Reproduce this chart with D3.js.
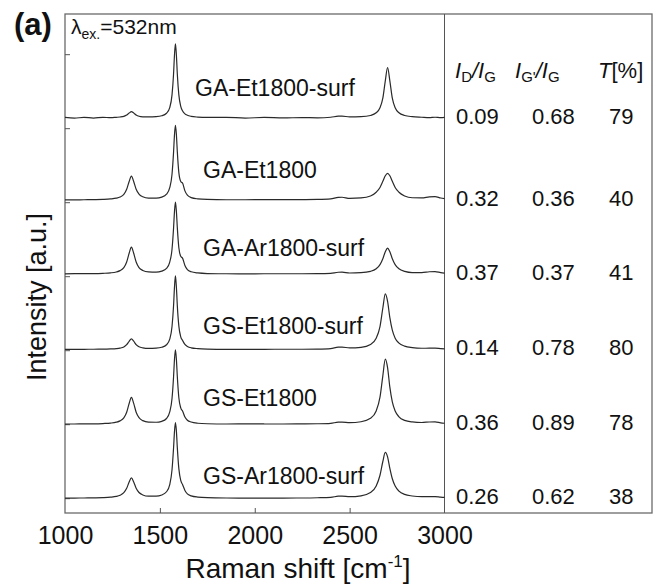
<!DOCTYPE html>
<html>
<head>
<meta charset="utf-8">
<script src="https://cdn.jsdelivr.net/npm/d3@7"></script>
<style>
  html, body { margin: 0; padding: 0; background: #fff; }
  svg { display: block; font-family: "Liberation Sans", Arial, sans-serif; }
</style>
</head>
<body>
<svg id="chart" width="659" height="586"></svg>
<script>
// Raman shift grid (cm-1) shared by every spectrum
const shifts = [1000, 1050, 1100, 1150, 1200, 1240, 1270, 1290, 1310, 1325,
  1338, 1350, 1362, 1375, 1390, 1410, 1440, 1480, 1510, 1535,
  1552, 1564, 1572, 1577, 1582, 1587, 1592, 1600, 1610, 1620,
  1632, 1645, 1665, 1700, 1750, 1850, 1950, 2050, 2150, 2250,
  2330, 2400, 2440, 2460, 2500, 2560, 2610, 2640, 2660, 2675,
  2688, 2700, 2712, 2725, 2740, 2760, 2790, 2830, 2880, 2920,
  2950, 2980, 3000];

// intensities (G peak ~ 1)
const gaEt1800Surf = [.005, -.004, .006, -.003, .007, .002, .007, .011, .02, .037,
  .064, .083, .065, .039, .022, .014, .012, .016, .028, .062,
  .139, .31, .59, .85, 1.0, .85, .59, .31, .155, .091,
  .054, .035, .02, .01, .005, .006, -.003, .005, -.002, .004,
  0, .008, .022, .023, .012, .015, .032, .068, .136, .265,
  .50, .68, .50, .265, .136, .068, .032, .016, .008, .003,
  .008, .002, .005];
const gaEt1800 = [.002, .002, .003, .005, .008, .014, .024, .040, .076, .144,
  .249, .323, .25, .145, .079, .044, .026, .025, .039, .078,
  .167, .348, .64, .88, 1.01, .885, .65, .37, .25, .225,
  .123, .064, .032, .015, .007, .003, .003, .004, .004, .005,
  .007, .014, .035, .037, .021, .027, .054, .104, .169, .252,
  .328, .36, .328, .252, .169, .104, .054, .03, .028, .042,
  .046, .027, .018];
const gaAr1800Surf = [.002, .004, .004, .005, .009, .015, .027, .045, .085, .161,
  .28, .363, .28, .162, .087, .048, .028, .025, .039, .075,
  .161, .334, .614, .843, .97, .848, .623, .355, .238, .211,
  .115, .06, .03, .014, .006, .003, .002, .003, .003, .003,
  .004, .009, .023, .024, .013, .017, .035, .07, .126, .207,
  .30, .35, .30, .207, .126, .07, .035, .019, .019, .03,
  .033, .019, .012];
const gsEt1800Surf = [.001, .001, .002, .003, .004, .007, .011, .018, .034, .064,
  .11, .143, .111, .065, .036, .022, .015, .018, .03, .063,
  .14, .31, .586, .842, .993, .844, .589, .315, .171, .12,
  .068, .041, .022, .011, .005, .002, .002, .002, .003, .003,
  .005, .012, .031, .032, .02, .029, .068, .152, .31, .56,
  .75, .65, .43, .26, .152, .086, .045, .025, .016, .017,
  .017, .011, .008];
const gsEt1800 = [.002, .003, .004, .005, .009, .015, .027, .045, .085, .161,
  .28, .363, .281, .162, .088, .048, .028, .026, .039, .077,
  .166, .347, .635, .875, 1.006, .878, .641, .358, .221, .175,
  .098, .054, .029, .013, .006, .003, .004, .003, .003, .004,
  .006, .012, .027, .028, .02, .033, .079, .178, .365, .654,
  .88, .765, .50, .30, .178, .10, .052, .031, .023, .03,
  .032, .019, .013];
const gsAr1800Surf = [.002, .002, .003, .005, .008, .014, .024, .040, .074, .133,
  .219, .274, .22, .135, .077, .044, .027, .027, .043, .087,
  .185, .385, .674, .90, 1.02, .91, .68, .40, .24, .182,
  .105, .059, .032, .015, .007, .003, .002, .002, .002, .003,
  .006, .012, .027, .029, .020, .032, .076, .164, .31, .496,
  .618, .558, .403, .263, .164, .096, .051, .03, .02, .022,
  .022, .014, .01];

const sampleNames = ["GA-Et1800-surf", "GA-Et1800", "GA-Ar1800-surf",
  "GS-Et1800-surf", "GS-Et1800", "GS-Ar1800-surf"];
const sampleValues = [gaEt1800Surf, gaEt1800, gaAr1800Surf, gsEt1800Surf, gsEt1800, gsAr1800Surf];
const offsets = [5.14, 4.03, 3.03, 2.01, 1.0, 0];

// table next to the spectra
const idIg = ["0.09", "0.32", "0.37", "0.14", "0.36", "0.26"];
const igpIg = ["0.68", "0.36", "0.37", "0.78", "0.89", "0.62"];
const transmittance = ["79", "40", "41", "80", "78", "38"];

const xTicks = [1000, 1500, 2000, 2500, 3000];
const yTicks = [0, 1, 2, 3, 4, 5, 6];

const svg = d3.select("#chart");
const plotLeft = 65, plotTop = 14, plotBottom = 513, plotRight = 652, divider = 444.5;
const font = 25;

const x = d3.scaleLinear().domain([1000, 3000]).range([plotLeft, divider]);
const y = d3.scaleLinear().domain([-0.2, 6.543]).range([plotBottom, plotTop]);

// frame
svg.append("rect")
  .attr("x", plotLeft).attr("y", plotTop)
  .attr("width", plotRight - plotLeft).attr("height", plotBottom - plotTop)
  .attr("fill", "none").attr("stroke", "#6a6a6a").attr("stroke-width", 1.3);
svg.append("line")
  .attr("x1", divider).attr("x2", divider).attr("y1", plotTop).attr("y2", plotBottom)
  .attr("stroke", "#555").attr("stroke-width", 1);

// x axis (inward ticks)
const xAxis = svg.append("g")
  .attr("transform", `translate(0,${plotBottom})`)
  .call(d3.axisBottom(x).tickValues(xTicks).tickSize(-5).tickPadding(13).tickFormat(d3.format("d")));
xAxis.select(".domain").remove();
xAxis.selectAll(".tick line").attr("stroke", "#555")
  .filter(d => d === 1000 || d === 3000).remove();
xAxis.selectAll(".tick text").attr("font-size", font).attr("fill", "#111")
  .attr("font-family", "Liberation Sans, Arial, sans-serif");

// y axis, ticks only
const yAxis = svg.append("g")
  .attr("transform", `translate(${plotLeft},0)`)
  .call(d3.axisLeft(y).tickValues(yTicks).tickSize(-5).tickFormat(""));
yAxis.select(".domain").remove();
yAxis.selectAll(".tick line").attr("stroke", "#555");

// spectra
const line = d3.line()
  .x(d => x(d[0]))
  .y(d => y(d[1]))
  .curve(d3.curveMonotoneX);

sampleValues.forEach((vals, i) => {
  const pts = shifts.map((s, j) => [s, vals[j] + offsets[i]]);
  svg.append("path")
    .attr("d", line(pts))
    .attr("fill", "none")
    .attr("stroke", "#2a2a2a")
    .attr("stroke-width", 1.2);
});

// sample labels
const labelX = [195, 203, 203, 203, 203, 203];
const labelDy = [-22, -22, -18, -15, -18, -14];
svg.append("g").selectAll("text")
  .data(sampleNames)
  .join("text")
  .attr("x", (d, i) => labelX[i])
  .attr("y", (d, i) => y(offsets[i]) + labelDy[i])
  .attr("font-size", 23)
  .attr("fill", "#111")
  .text(d => d);

// table
const colX = [456, 532, 609];
const rowY = offsets.map(o => y(o) + 6);
const table = svg.append("g").attr("font-size", 22).attr("fill", "#111");
[idIg, igpIg, transmittance].forEach((col, c) => {
  table.selectAll(null)
    .data(col)
    .join("text")
    .attr("x", colX[c])
    .attr("y", (d, i) => rowY[i])
    .text(d => d);
});

// table headers
const headY = 78;
const h1 = svg.append("text").attr("x", 455).attr("y", headY).attr("font-size", 22).attr("fill", "#111");
h1.append("tspan").attr("font-style", "italic").text("I");
h1.append("tspan").attr("font-size", 15).attr("dy", 4).text("D");
h1.append("tspan").attr("dy", -4).attr("font-style", "italic").text("/I");
h1.append("tspan").attr("font-size", 15).attr("dy", 4).text("G");

const h2 = svg.append("text").attr("x", 515).attr("y", headY).attr("font-size", 22).attr("fill", "#111");
h2.append("tspan").attr("font-style", "italic").text("I");
h2.append("tspan").attr("font-size", 15).attr("dy", 4).text("G'");
h2.append("tspan").attr("dy", -4).attr("font-style", "italic").text("/I");
h2.append("tspan").attr("font-size", 15).attr("dy", 4).text("G");

const h3 = svg.append("text").attr("x", 598).attr("y", headY).attr("font-size", 22).attr("fill", "#111");
h3.append("tspan").attr("font-style", "italic").text("T");
h3.append("tspan").text("[%]");

// axis titles
const xt = svg.append("text")
  .attr("x", 298).attr("y", 578)
  .attr("text-anchor", "middle")
  .attr("font-size", 28).attr("fill", "#111");
xt.append("tspan").text("Raman shift [cm");
xt.append("tspan").attr("font-size", 17).attr("dy", -11).text("-1");
xt.append("tspan").attr("dy", 11).text("]");

svg.append("text")
  .attr("transform", "translate(46,297) rotate(-90)")
  .attr("text-anchor", "middle")
  .attr("font-size", 27).attr("fill", "#111")
  .text("Intensity [a.u.]");

// excitation wavelength
const lam = svg.append("text").attr("x", 71).attr("y", 34).attr("font-size", 21).attr("fill", "#111");
lam.append("tspan").text("λ");
lam.append("tspan").attr("font-size", 14).attr("dy", 5).text("ex.");
lam.append("tspan").attr("dy", -5).text("=532nm");

// panel letter
svg.append("text")
  .attr("x", 14).attr("y", 35)
  .attr("font-size", 31).attr("font-weight", "bold").attr("fill", "#111")
  .text("(a)");
</script>
</body>
</html>
